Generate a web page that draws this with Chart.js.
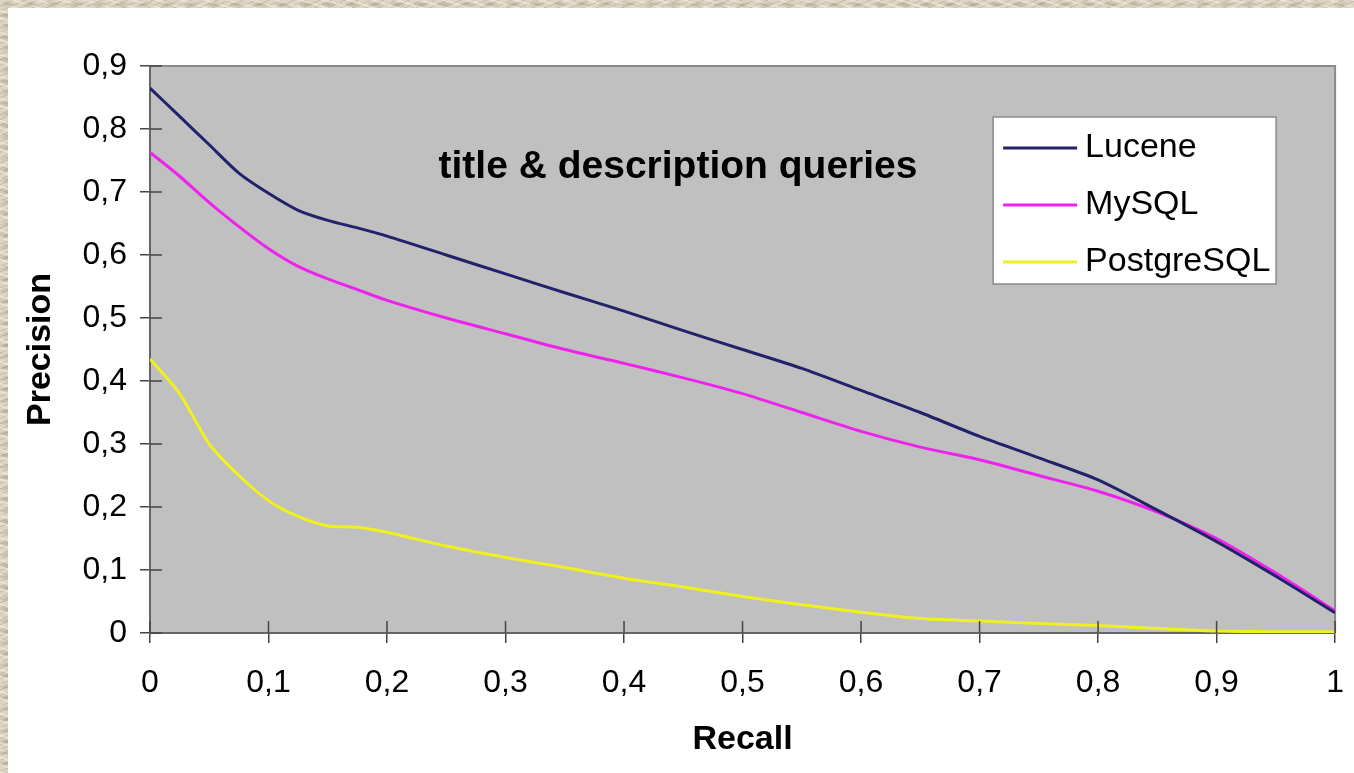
<!DOCTYPE html>
<html>
<head>
<meta charset="utf-8">
<script src="https://cdn.jsdelivr.net/npm/chart.js@4"></script>
<style>
  html, body { margin: 0; padding: 0; }
  body {
    width: 1354px; height: 773px; overflow: hidden; position: relative;
    background-color: #ddd4c2;
    background-image:
      radial-gradient(ellipse 9px 3px at 30% 40%, rgba(120,100,75,0.35), transparent),
      repeating-linear-gradient(17deg, rgba(255,255,255,0.35) 0 2px, transparent 2px 7px),
      repeating-linear-gradient(-23deg, rgba(140,120,95,0.25) 0 1px, transparent 1px 5px);
    background-size: 23px 11px, auto, auto;
  }
  #panel {
    position: absolute; left: 8px; top: 8px; width: 1357px; height: 765px;
    background: #fff;
  }
</style>
</head>
<body>
<div id="panel"><canvas id="chart"></canvas></div>
<script>
// recall points shared by all three curves
const recall = [0, 0.025, 0.05, 0.075, 0.1, 0.125, 0.15, 0.175, 0.2, 0.25, 0.3, 0.35, 0.4,
                0.45, 0.5, 0.55, 0.6, 0.65, 0.7, 0.75, 0.8, 0.85, 0.9, 0.95, 1];

const lucene     = [0.865, 0.82, 0.775, 0.73, 0.698, 0.671, 0.655, 0.643, 0.630, 0.600, 0.570, 0.540, 0.511,
                    0.480, 0.450, 0.420, 0.385, 0.350, 0.312, 0.278, 0.243, 0.195, 0.145, 0.090, 0.032];
const mysql      = [0.763, 0.725, 0.683, 0.645, 0.610, 0.582, 0.562, 0.545, 0.528, 0.500, 0.475, 0.450, 0.428,
                    0.405, 0.380, 0.350, 0.320, 0.295, 0.275, 0.250, 0.225, 0.192, 0.150, 0.095, 0.035];
const postgresql = [0.435, 0.38, 0.30, 0.25, 0.21, 0.185, 0.170, 0.168, 0.160, 0.138, 0.120, 0.104, 0.087,
                    0.073, 0.058, 0.045, 0.033, 0.023, 0.019, 0.015, 0.012, 0.007, 0.003, 0.002, 0.002];

const seriesNames = ["Lucene", "MySQL", "PostgreSQL"];
const xTickLabels = ["0", "0,1", "0,2", "0,3", "0,4", "0,5", "0,6", "0,7", "0,8", "0,9", "1"];
const yTickLabels = ["0", "0,1", "0,2", "0,3", "0,4", "0,5", "0,6", "0,7", "0,8", "0,9"];
const chartTitle  = "title & description queries";

const FONT = "'Liberation Sans', Arial, sans-serif";

const toPoints = arr => arr.map((v, i) => ({ x: recall[i], y: v }));

// grey plot area with thin frame on top/right
const plotBg = {
  id: "plotBg",
  beforeDraw(c) {
    const { ctx, chartArea: a } = c;
    ctx.save();
    ctx.fillStyle = "#c0c0c0";
    ctx.fillRect(a.left, a.top, a.right - a.left, a.bottom - a.top);
    ctx.strokeStyle = "#8a8a8a";
    ctx.lineWidth = 2;
    ctx.beginPath();
    ctx.moveTo(a.left, a.top);
    ctx.lineTo(a.right, a.top);
    ctx.lineTo(a.right, a.bottom);
    ctx.stroke();
    ctx.restore();
  }
};

// tick marks that also poke into the plot, title text and legend box
const extras = {
  id: "extras",
  afterDraw(c) {
    const { ctx, chartArea: a } = c;
    const xs = c.scales.x, ys = c.scales.y;
    ctx.save();
    ctx.strokeStyle = "#444";
    ctx.lineWidth = 1.5;
    ctx.beginPath();
    xs.ticks.forEach((t, i) => {
      const px = xs.getPixelForTick(i);
      ctx.moveTo(px, a.bottom);
      ctx.lineTo(px, a.bottom - 12);
    });
    ys.ticks.forEach((t, i) => {
      const py = ys.getPixelForTick(i);
      ctx.moveTo(a.left, py);
      ctx.lineTo(a.left + 12, py);
    });
    ctx.stroke();

    // title inside plot
    ctx.fillStyle = "#000";
    ctx.font = "bold 39px " + FONT;
    ctx.textAlign = "center";
    ctx.textBaseline = "middle";
    ctx.fillText(chartTitle, a.left + 528, a.top + 101);

    // legend
    const bx = a.right - 342, by = a.top + 51, bw = 283, bh = 167;
    ctx.fillStyle = "#fff";
    ctx.fillRect(bx, by, bw, bh);
    ctx.strokeStyle = "#8a8a8a";
    ctx.lineWidth = 1.5;
    ctx.strokeRect(bx, by, bw, bh);
    ctx.font = "34px " + FONT;
    ctx.textAlign = "left";
    c.data.datasets.forEach((ds, i) => {
      const ry = by + 31 + i * 57;
      ctx.strokeStyle = ds.borderColor;
      ctx.lineWidth = 3;
      ctx.beginPath();
      ctx.moveTo(bx + 10, ry);
      ctx.lineTo(bx + 84, ry);
      ctx.stroke();
      ctx.fillStyle = "#000";
      ctx.fillText(ds.label, bx + 92, ry);
    });
    ctx.restore();
  }
};

const ctx = document.getElementById("chart").getContext("2d");

new Chart(ctx, {
  type: "line",
  data: {
    datasets: [
      { label: seriesNames[0], data: toPoints(lucene),     borderColor: "#22226a" },
      { label: seriesNames[1], data: toPoints(mysql),      borderColor: "#ee22ee" },
      { label: seriesNames[2], data: toPoints(postgresql), borderColor: "#f0f01e" },
    ],
  },
  options: {
    responsive: true,
    maintainAspectRatio: false,
    animation: false,
    events: [],
    layout: { padding: { left: 0, top: 58, right: 0, bottom: 0 } },
    elements: {
      line: { borderWidth: 3, tension: 0.25, fill: false },
      point: { radius: 0 },
    },
    plugins: {
      legend: { display: false },
      tooltip: { enabled: false },
    },
    scales: {
      x: {
        type: "linear",
        min: 0, max: 1,
        ticks: {
          stepSize: 0.1,
          color: "#000",
          font: { family: FONT, size: 32 },
          padding: 21,
          maxRotation: 0,
          callback: (v, i) => xTickLabels[i],
        },
        grid: { drawOnChartArea: false, drawTicks: true, tickLength: 10, color: "#444", lineWidth: 1.5 },
        border: { display: true, color: "#666", width: 2 },
        title: {
          display: true, text: "Recall", color: "#000",
          font: { family: FONT, size: 34, weight: "bold" },
          padding: { top: 0, bottom: 13 },
        },
        afterFit: s => { s.height = 140; },
      },
      y: {
        min: 0, max: 0.9,
        ticks: {
          stepSize: 0.1,
          color: "#000",
          font: { family: FONT, size: 32 },
          padding: 13,
          callback: (v, i) => yTickLabels[i],
        },
        grid: { drawOnChartArea: false, drawTicks: true, tickLength: 10, color: "#444", lineWidth: 1.5 },
        border: { display: true, color: "#666", width: 2 },
        title: {
          display: true, text: "Precision", color: "#000",
          font: { family: FONT, size: 34, weight: "bold" },
          padding: { top: 12, bottom: 0 },
        },
        afterFit: s => { s.width = 142; },
      },
    },
  },
  plugins: [plotBg, extras],
});
</script>
</body>
</html>
